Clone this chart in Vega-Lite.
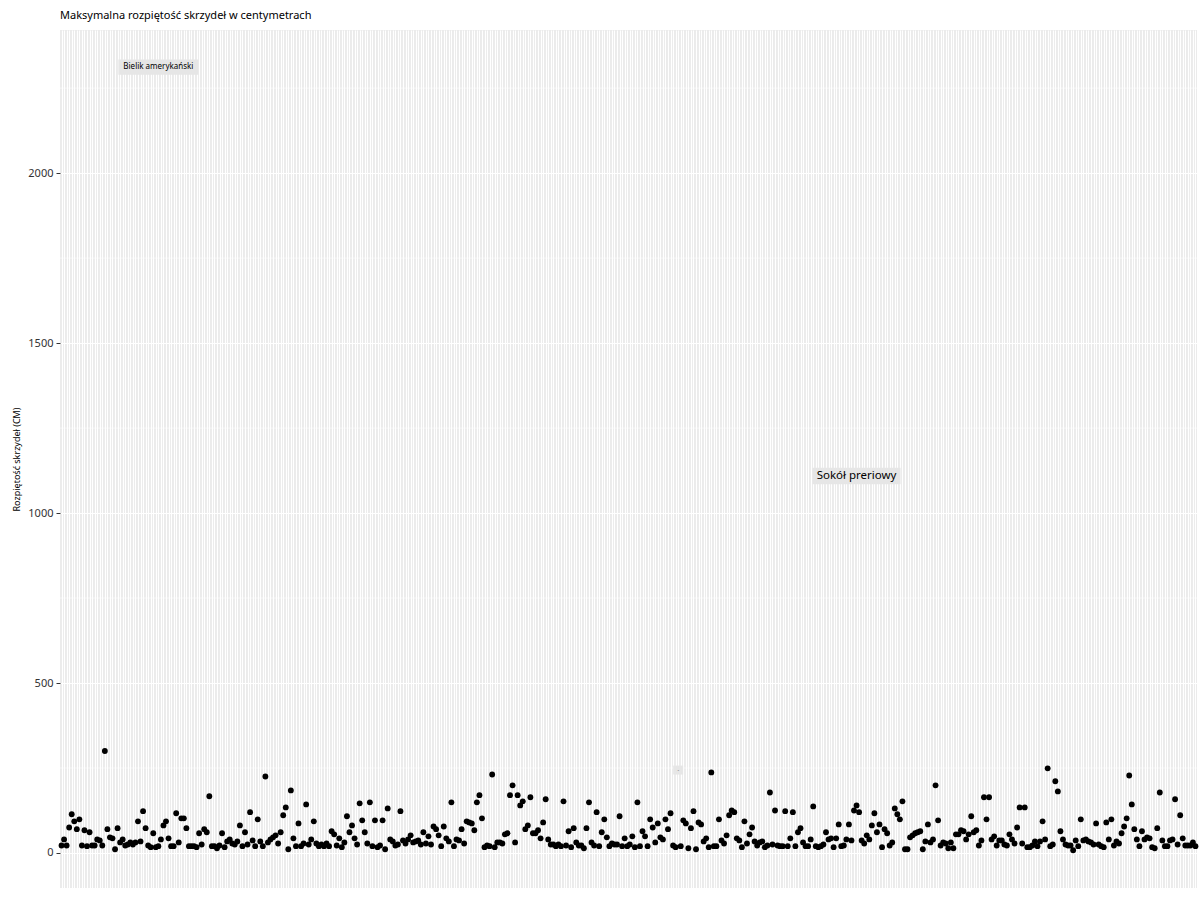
{
  "$schema": "https://vega.github.io/schema/vega-lite/v6.json",
  "autosize": "none",
  "width": 1137,
  "height": 858,
  "padding": {"left": 60, "top": 30, "right": 3, "bottom": 12},
  "background": "white",
  "title": {
    "text": "Maksymalna rozpiętość skrzydeł w centymetrach",
    "anchor": "start",
    "frame": "group",
    "fontSize": 11,
    "fontWeight": "normal",
    "color": "#000000",
    "offset": 9
  },
  "datasets": {
    "ptaki": [
      {"nr":1,"rozpietosc":22},{"nr":2,"rozpietosc":40},{"nr":3,"rozpietosc":22},{"nr":4,"rozpietosc":75},{"nr":5,"rozpietosc":114},{"nr":6,"rozpietosc":93},{"nr":7,"rozpietosc":70},{"nr":8,"rozpietosc":99},{"nr":9,"rozpietosc":22},{"nr":10,"rozpietosc":67},
      {"nr":11,"rozpietosc":20},{"nr":12,"rozpietosc":61},{"nr":13,"rozpietosc":22},{"nr":14,"rozpietosc":22},{"nr":15,"rozpietosc":40},{"nr":16,"rozpietosc":37},{"nr":17,"rozpietosc":22},{"nr":18,"rozpietosc":300},{"nr":19,"rozpietosc":70},{"nr":20,"rozpietosc":46},
      {"nr":21,"rozpietosc":43},{"nr":22,"rozpietosc":11},{"nr":23,"rozpietosc":73},{"nr":24,"rozpietosc":31},{"nr":25,"rozpietosc":40},{"nr":26,"rozpietosc":22},{"nr":27,"rozpietosc":25},{"nr":28,"rozpietosc":31},{"nr":29,"rozpietosc":25},{"nr":30,"rozpietosc":31},
      {"nr":31,"rozpietosc":93},{"nr":32,"rozpietosc":34},{"nr":33,"rozpietosc":123},{"nr":34,"rozpietosc":73},{"nr":35,"rozpietosc":22},{"nr":36,"rozpietosc":17},{"nr":37,"rozpietosc":58},{"nr":38,"rozpietosc":17},{"nr":39,"rozpietosc":20},{"nr":40,"rozpietosc":40},
      {"nr":41,"rozpietosc":81},{"nr":42,"rozpietosc":93},{"nr":43,"rozpietosc":43},{"nr":44,"rozpietosc":20},{"nr":45,"rozpietosc":20},{"nr":46,"rozpietosc":117},{"nr":47,"rozpietosc":31},{"nr":48,"rozpietosc":102},{"nr":49,"rozpietosc":102},{"nr":50,"rozpietosc":73},
      {"nr":51,"rozpietosc":20},{"nr":52,"rozpietosc":20},{"nr":53,"rozpietosc":20},{"nr":54,"rozpietosc":17},{"nr":55,"rozpietosc":58},{"nr":56,"rozpietosc":25},{"nr":57,"rozpietosc":70},{"nr":58,"rozpietosc":61},{"nr":59,"rozpietosc":167},{"nr":60,"rozpietosc":20},
      {"nr":61,"rozpietosc":20},{"nr":62,"rozpietosc":14},{"nr":63,"rozpietosc":22},{"nr":64,"rozpietosc":58},{"nr":65,"rozpietosc":17},{"nr":66,"rozpietosc":34},
      {"nr":67,"rozpietosc":40},{"nr":68,"rozpietosc":28},{"nr":69,"rozpietosc":25},{"nr":70,"rozpietosc":34},{"nr":71,"rozpietosc":81},{"nr":72,"rozpietosc":20},{"nr":73,"rozpietosc":61},{"nr":74,"rozpietosc":25},{"nr":75,"rozpietosc":120},{"nr":76,"rozpietosc":37},
      {"nr":77,"rozpietosc":20},{"nr":78,"rozpietosc":99},{"nr":79,"rozpietosc":34},{"nr":80,"rozpietosc":20},{"nr":81,"rozpietosc":225},{"nr":82,"rozpietosc":31},{"nr":83,"rozpietosc":40},{"nr":84,"rozpietosc":46},{"nr":85,"rozpietosc":52},{"nr":86,"rozpietosc":28},
      {"nr":87,"rozpietosc":61},{"nr":88,"rozpietosc":111},{"nr":89,"rozpietosc":134},{"nr":90,"rozpietosc":11},{"nr":91,"rozpietosc":184},{"nr":92,"rozpietosc":43},{"nr":93,"rozpietosc":20},{"nr":94,"rozpietosc":87},{"nr":95,"rozpietosc":20},{"nr":96,"rozpietosc":28},
      {"nr":97,"rozpietosc":143},{"nr":98,"rozpietosc":25},{"nr":99,"rozpietosc":40},{"nr":100,"rozpietosc":93},{"nr":101,"rozpietosc":28},{"nr":102,"rozpietosc":20},{"nr":103,"rozpietosc":25},{"nr":104,"rozpietosc":20},{"nr":105,"rozpietosc":28},{"nr":106,"rozpietosc":20},
      {"nr":107,"rozpietosc":64},{"nr":108,"rozpietosc":55},{"nr":109,"rozpietosc":22},{"nr":110,"rozpietosc":43},{"nr":111,"rozpietosc":17},{"nr":112,"rozpietosc":31},{"nr":113,"rozpietosc":108},{"nr":114,"rozpietosc":61},{"nr":115,"rozpietosc":81},{"nr":116,"rozpietosc":43},
      {"nr":117,"rozpietosc":25},{"nr":118,"rozpietosc":146},{"nr":119,"rozpietosc":96},{"nr":120,"rozpietosc":61},{"nr":121,"rozpietosc":28},{"nr":122,"rozpietosc":149},{"nr":123,"rozpietosc":20},{"nr":124,"rozpietosc":96},{"nr":125,"rozpietosc":17},{"nr":126,"rozpietosc":22},
      {"nr":127,"rozpietosc":96},{"nr":128,"rozpietosc":11},{"nr":129,"rozpietosc":131},{"nr":130,"rozpietosc":40},{"nr":131,"rozpietosc":34},{"nr":132,"rozpietosc":22},{"nr":133,"rozpietosc":25},
      {"nr":134,"rozpietosc":123},{"nr":135,"rozpietosc":37},{"nr":136,"rozpietosc":28},{"nr":137,"rozpietosc":40},{"nr":138,"rozpietosc":52},{"nr":139,"rozpietosc":31},{"nr":140,"rozpietosc":34},{"nr":141,"rozpietosc":37},{"nr":142,"rozpietosc":25},{"nr":143,"rozpietosc":61},
      {"nr":144,"rozpietosc":28},{"nr":145,"rozpietosc":49},{"nr":146,"rozpietosc":25},{"nr":147,"rozpietosc":78},{"nr":148,"rozpietosc":70},{"nr":149,"rozpietosc":52},{"nr":150,"rozpietosc":20},{"nr":151,"rozpietosc":78},{"nr":152,"rozpietosc":43},{"nr":153,"rozpietosc":34},
      {"nr":154,"rozpietosc":149},{"nr":155,"rozpietosc":20},{"nr":156,"rozpietosc":40},{"nr":157,"rozpietosc":37},{"nr":158,"rozpietosc":70},{"nr":159,"rozpietosc":28},{"nr":160,"rozpietosc":93},{"nr":161,"rozpietosc":90},{"nr":162,"rozpietosc":87},{"nr":163,"rozpietosc":67},
      {"nr":164,"rozpietosc":149},{"nr":165,"rozpietosc":170},{"nr":166,"rozpietosc":102},{"nr":167,"rozpietosc":17},{"nr":168,"rozpietosc":22},{"nr":169,"rozpietosc":20},{"nr":170,"rozpietosc":231},{"nr":171,"rozpietosc":17},{"nr":172,"rozpietosc":31},{"nr":173,"rozpietosc":31},
      {"nr":174,"rozpietosc":28},{"nr":175,"rozpietosc":55},{"nr":176,"rozpietosc":58},{"nr":177,"rozpietosc":170},{"nr":178,"rozpietosc":199},{"nr":179,"rozpietosc":31},{"nr":180,"rozpietosc":170},{"nr":181,"rozpietosc":140},{"nr":182,"rozpietosc":152},{"nr":183,"rozpietosc":70},
      {"nr":184,"rozpietosc":81},{"nr":185,"rozpietosc":164},{"nr":186,"rozpietosc":58},{"nr":187,"rozpietosc":58},{"nr":188,"rozpietosc":67},{"nr":189,"rozpietosc":43},{"nr":190,"rozpietosc":90},{"nr":191,"rozpietosc":158},{"nr":192,"rozpietosc":40},{"nr":193,"rozpietosc":25},
      {"nr":194,"rozpietosc":25},{"nr":195,"rozpietosc":20},{"nr":196,"rozpietosc":25},{"nr":197,"rozpietosc":20},
      {"nr":198,"rozpietosc":152},{"nr":199,"rozpietosc":22},{"nr":200,"rozpietosc":64},{"nr":201,"rozpietosc":17},{"nr":202,"rozpietosc":73},{"nr":203,"rozpietosc":31},{"nr":204,"rozpietosc":22},{"nr":205,"rozpietosc":22},{"nr":206,"rozpietosc":14},{"nr":207,"rozpietosc":73},
      {"nr":208,"rozpietosc":149},{"nr":209,"rozpietosc":31},{"nr":210,"rozpietosc":22},{"nr":211,"rozpietosc":120},{"nr":212,"rozpietosc":20},{"nr":213,"rozpietosc":61},{"nr":214,"rozpietosc":99},{"nr":215,"rozpietosc":46},{"nr":216,"rozpietosc":20},{"nr":217,"rozpietosc":28},
      {"nr":218,"rozpietosc":25},{"nr":219,"rozpietosc":25},{"nr":220,"rozpietosc":108},{"nr":221,"rozpietosc":20},{"nr":222,"rozpietosc":43},{"nr":223,"rozpietosc":20},{"nr":224,"rozpietosc":25},{"nr":225,"rozpietosc":49},{"nr":226,"rozpietosc":17},{"nr":227,"rozpietosc":149},
      {"nr":228,"rozpietosc":20},{"nr":229,"rozpietosc":64},{"nr":230,"rozpietosc":49},{"nr":231,"rozpietosc":20},{"nr":232,"rozpietosc":99},{"nr":233,"rozpietosc":75},{"nr":234,"rozpietosc":31},{"nr":235,"rozpietosc":87},{"nr":236,"rozpietosc":46},{"nr":237,"rozpietosc":40},
      {"nr":238,"rozpietosc":99},{"nr":239,"rozpietosc":70},{"nr":240,"rozpietosc":117},{"nr":241,"rozpietosc":22},{"nr":242,"rozpietosc":17},
      {"nr":244,"rozpietosc":20},{"nr":245,"rozpietosc":96},{"nr":246,"rozpietosc":87},{"nr":247,"rozpietosc":14},{"nr":248,"rozpietosc":73},{"nr":249,"rozpietosc":123},{"nr":250,"rozpietosc":11},{"nr":251,"rozpietosc":90},{"nr":252,"rozpietosc":84},{"nr":253,"rozpietosc":34},
      {"nr":254,"rozpietosc":43},{"nr":255,"rozpietosc":17},{"nr":256,"rozpietosc":237},{"nr":257,"rozpietosc":20},{"nr":258,"rozpietosc":20},{"nr":259,"rozpietosc":99},{"nr":260,"rozpietosc":37},{"nr":261,"rozpietosc":28},{"nr":262,"rozpietosc":52},
      {"nr":263,"rozpietosc":111},{"nr":264,"rozpietosc":125},{"nr":265,"rozpietosc":120},{"nr":266,"rozpietosc":43},{"nr":267,"rozpietosc":37},{"nr":268,"rozpietosc":17},{"nr":269,"rozpietosc":93},{"nr":270,"rozpietosc":28},{"nr":271,"rozpietosc":55},{"nr":272,"rozpietosc":75},
      {"nr":273,"rozpietosc":34},{"nr":274,"rozpietosc":22},{"nr":275,"rozpietosc":31},{"nr":276,"rozpietosc":34},{"nr":277,"rozpietosc":17},{"nr":278,"rozpietosc":22},{"nr":279,"rozpietosc":178},{"nr":280,"rozpietosc":25},{"nr":281,"rozpietosc":125},{"nr":282,"rozpietosc":22},
      {"nr":283,"rozpietosc":20},{"nr":284,"rozpietosc":20},{"nr":285,"rozpietosc":123},{"nr":286,"rozpietosc":20},{"nr":287,"rozpietosc":43},{"nr":288,"rozpietosc":120},{"nr":289,"rozpietosc":20},{"nr":290,"rozpietosc":61},{"nr":291,"rozpietosc":73},{"nr":292,"rozpietosc":31},
      {"nr":293,"rozpietosc":20},{"nr":294,"rozpietosc":20},{"nr":295,"rozpietosc":40},{"nr":296,"rozpietosc":137},{"nr":297,"rozpietosc":20},{"nr":298,"rozpietosc":17},{"nr":299,"rozpietosc":20},{"nr":300,"rozpietosc":25},{"nr":301,"rozpietosc":61},{"nr":302,"rozpietosc":40},
      {"nr":303,"rozpietosc":43},{"nr":304,"rozpietosc":17},{"nr":305,"rozpietosc":43},{"nr":306,"rozpietosc":84},{"nr":307,"rozpietosc":20},{"nr":308,"rozpietosc":22},{"nr":309,"rozpietosc":40},{"nr":310,"rozpietosc":84},{"nr":311,"rozpietosc":37},{"nr":312,"rozpietosc":125},
      {"nr":313,"rozpietosc":140},{"nr":314,"rozpietosc":120},{"nr":315,"rozpietosc":37},{"nr":316,"rozpietosc":28},{"nr":317,"rozpietosc":52},{"nr":318,"rozpietosc":40},{"nr":319,"rozpietosc":81},{"nr":320,"rozpietosc":117},{"nr":321,"rozpietosc":61},{"nr":322,"rozpietosc":84},
      {"nr":323,"rozpietosc":17},{"nr":324,"rozpietosc":70},{"nr":325,"rozpietosc":58},{"nr":326,"rozpietosc":22},{"nr":327,"rozpietosc":31},
      {"nr":328,"rozpietosc":131},{"nr":329,"rozpietosc":114},{"nr":330,"rozpietosc":99},{"nr":331,"rozpietosc":152},{"nr":332,"rozpietosc":11},{"nr":333,"rozpietosc":11},{"nr":334,"rozpietosc":46},{"nr":335,"rozpietosc":52},{"nr":336,"rozpietosc":58},{"nr":337,"rozpietosc":61},
      {"nr":338,"rozpietosc":64},{"nr":339,"rozpietosc":11},{"nr":340,"rozpietosc":34},{"nr":341,"rozpietosc":84},{"nr":342,"rozpietosc":31},{"nr":343,"rozpietosc":40},{"nr":344,"rozpietosc":199},{"nr":345,"rozpietosc":96},{"nr":346,"rozpietosc":22},{"nr":347,"rozpietosc":31},
      {"nr":348,"rozpietosc":28},{"nr":349,"rozpietosc":14},{"nr":350,"rozpietosc":31},{"nr":351,"rozpietosc":14},{"nr":352,"rozpietosc":55},{"nr":353,"rozpietosc":55},{"nr":354,"rozpietosc":67},{"nr":355,"rozpietosc":64},{"nr":356,"rozpietosc":40},{"nr":357,"rozpietosc":55},
      {"nr":358,"rozpietosc":108},{"nr":359,"rozpietosc":61},{"nr":360,"rozpietosc":67},{"nr":361,"rozpietosc":22},{"nr":362,"rozpietosc":37},{"nr":363,"rozpietosc":164},{"nr":364,"rozpietosc":99},{"nr":365,"rozpietosc":164},{"nr":366,"rozpietosc":40},{"nr":367,"rozpietosc":49},
      {"nr":368,"rozpietosc":22},{"nr":369,"rozpietosc":37},{"nr":370,"rozpietosc":37},{"nr":371,"rozpietosc":25},{"nr":372,"rozpietosc":22},{"nr":373,"rozpietosc":55},{"nr":374,"rozpietosc":40},{"nr":375,"rozpietosc":28},{"nr":376,"rozpietosc":75},{"nr":377,"rozpietosc":134},
      {"nr":378,"rozpietosc":28},{"nr":379,"rozpietosc":134},{"nr":380,"rozpietosc":17},{"nr":381,"rozpietosc":17},{"nr":382,"rozpietosc":22},{"nr":383,"rozpietosc":34},{"nr":384,"rozpietosc":20},{"nr":385,"rozpietosc":34},{"nr":386,"rozpietosc":93},{"nr":387,"rozpietosc":40},
      {"nr":388,"rozpietosc":249},{"nr":389,"rozpietosc":20},{"nr":390,"rozpietosc":25},{"nr":391,"rozpietosc":211},{"nr":392,"rozpietosc":181},
      {"nr":393,"rozpietosc":64},{"nr":394,"rozpietosc":40},{"nr":395,"rozpietosc":25},{"nr":396,"rozpietosc":22},{"nr":397,"rozpietosc":22},{"nr":398,"rozpietosc":8},{"nr":399,"rozpietosc":37},{"nr":400,"rozpietosc":20},{"nr":401,"rozpietosc":99},{"nr":402,"rozpietosc":37},
      {"nr":403,"rozpietosc":40},{"nr":404,"rozpietosc":34},{"nr":405,"rozpietosc":31},{"nr":406,"rozpietosc":25},{"nr":407,"rozpietosc":87},{"nr":408,"rozpietosc":25},{"nr":409,"rozpietosc":20},{"nr":410,"rozpietosc":17},{"nr":411,"rozpietosc":90},{"nr":412,"rozpietosc":40},
      {"nr":413,"rozpietosc":99},{"nr":414,"rozpietosc":22},{"nr":415,"rozpietosc":34},{"nr":416,"rozpietosc":28},{"nr":417,"rozpietosc":58},{"nr":418,"rozpietosc":78},{"nr":419,"rozpietosc":102},{"nr":420,"rozpietosc":228},{"nr":421,"rozpietosc":143},{"nr":422,"rozpietosc":70},
      {"nr":423,"rozpietosc":40},{"nr":424,"rozpietosc":20},{"nr":425,"rozpietosc":64},{"nr":426,"rozpietosc":40},{"nr":427,"rozpietosc":46},{"nr":428,"rozpietosc":43},{"nr":429,"rozpietosc":17},{"nr":430,"rozpietosc":14},{"nr":431,"rozpietosc":73},{"nr":432,"rozpietosc":178},
      {"nr":433,"rozpietosc":37},{"nr":434,"rozpietosc":20},{"nr":435,"rozpietosc":20},{"nr":436,"rozpietosc":37},{"nr":437,"rozpietosc":40},{"nr":438,"rozpietosc":158},{"nr":439,"rozpietosc":25},{"nr":440,"rozpietosc":111},{"nr":441,"rozpietosc":43},{"nr":442,"rozpietosc":22},
      {"nr":443,"rozpietosc":22},{"nr":444,"rozpietosc":22},{"nr":445,"rozpietosc":31},{"nr":446,"rozpietosc":20}
    ],
    "etykiety": [
      {"nr":39,"rozpietosc":2312,"etykieta":"Bielik amerykański"},
      {"nr":313,"rozpietosc":1109,"etykieta":"Sokół preriowy"},
      {"nr":243,"rozpietosc":244,"etykieta":"-"}
    ],
    "siatka": [
      {"rozpietosc":250},{"rozpietosc":750},{"rozpietosc":1250},{"rozpietosc":1750},{"rozpietosc":2250}
    ]
  },
  "layer": [
    {
      "data": {"name": "siatka"},
      "mark": {"type": "rule", "color": "white", "strokeWidth": 0.55},
      "encoding": {
        "y": {"field": "rozpietosc", "type": "quantitative", "title": "Rozpiętość skrzydeł (CM)"}
      }
    },
    {
      "data": {"name": "ptaki"},
      "mark": {"type": "circle", "size": 34, "color": "black", "opacity": 1},
      "encoding": {
        "x": {
          "field": "nr",
          "type": "ordinal",
          "scale": {"type": "point", "padding": 0.6},
          "axis": {
            "title": null,
            "labels": false,
            "ticks": false,
            "domain": false,
            "grid": true,
            "gridColor": "white",
            "gridWidth": 1.1,
            "gridOpacity": 1
          }
        },
        "y": {
          "field": "rozpietosc",
          "type": "quantitative",
          "title": "Rozpiętość skrzydeł (CM)",
          "scale": {"domain": [-103, 2421], "nice": false, "zero": false},
          "axis": {
            "values": [0, 500, 1000, 1500, 2000],
            "format": "d",
            "grid": true,
            "gridColor": "white",
            "gridWidth": 1.1,
            "gridOpacity": 1,
            "domain": false,
            "tickColor": "#333333",
            "tickSize": 4,
            "labelFontSize": 11,
            "labelColor": "#333333",
            "labelPadding": 3,
            "titleFontSize": 9,
            "titleFontWeight": "normal",
            "titleColor": "#000000",
            "titlePadding": 6
          }
        }
      }
    },
    {
      "data": {"name": "etykiety"},
      "transform": [{"filter": "datum.etykieta == 'Bielik amerykański'"}],
      "encoding": {
        "x": {"field": "nr", "type": "ordinal"},
        "y": {"field": "rozpietosc", "type": "quantitative", "title": "Rozpiętość skrzydeł (CM)"}
      },
      "layer": [
        {"mark": {"type": "point", "shape": "M-1,-0.19L1,-0.19L1,0.19L-1,0.19Z", "size": 6400, "filled": true, "color": "#E6E6E6", "opacity": 1, "strokeWidth": 0}},
        {"mark": {"type": "text", "fontSize": 8, "color": "#000000"}, "encoding": {"text": {"field": "etykieta"}}}
      ]
    },
    {
      "data": {"name": "etykiety"},
      "transform": [{"filter": "datum.etykieta == 'Sokół preriowy'"}],
      "encoding": {
        "x": {"field": "nr", "type": "ordinal"},
        "y": {"field": "rozpietosc", "type": "quantitative", "title": "Rozpiętość skrzydeł (CM)"}
      },
      "layer": [
        {"mark": {"type": "point", "shape": "M-1,-0.19L1,-0.19L1,0.19L-1,0.19Z", "size": 7744, "filled": true, "color": "#E6E6E6", "opacity": 1, "strokeWidth": 0}},
        {"mark": {"type": "text", "fontSize": 11.5, "color": "#000000"}, "encoding": {"text": {"field": "etykieta"}}}
      ]
    },
    {
      "data": {"name": "etykiety"},
      "transform": [{"filter": "datum.etykieta == '-'"}],
      "encoding": {
        "x": {"field": "nr", "type": "ordinal"},
        "y": {"field": "rozpietosc", "type": "quantitative", "title": "Rozpiętość skrzydeł (CM)"}
      },
      "layer": [
        {"mark": {"type": "point", "shape": "M-1,-0.9L1,-0.9L1,0.9L-1,0.9Z", "size": 100, "filled": true, "color": "#E6E6E6", "opacity": 1, "strokeWidth": 0}},
        {"mark": {"type": "text", "fontSize": 5, "color": "#555555"}, "encoding": {"text": {"field": "etykieta"}}}
      ]
    }
  ],
  "config": {
    "font": "Noto Sans",
    "view": {"fill": "#EBEBEB", "stroke": null}
  }
}
